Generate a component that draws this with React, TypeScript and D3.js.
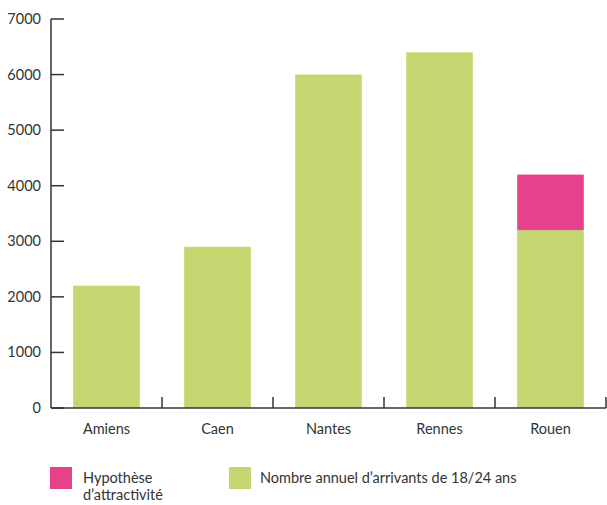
import React from "react";
import * as d3 from "d3";

const categories = ["Amiens", "Caen", "Nantes", "Rennes", "Rouen"];
const arrivants = [2200, 2900, 6000, 6400, 3200];
const hypothese = [0, 0, 0, 0, 1000];
const yTicks = [0, 1000, 2000, 3000, 4000, 5000, 6000, 7000];
const legendLabels = ["Hypothèse|d’attractivité", "Nombre annuel d’arrivants de 18/24 ans"];

const W = 607, H = 505;
const GREEN = "#c3d66f";
const PINK = "#e8418c";
const TEXT = "#333";
const FONT = "Lato, sans-serif";

export default function App() {
  const x = d3.scaleBand<string>().domain(categories).range([51, 606]).paddingInner(0.4).paddingOuter(0.2);
  const y = d3.scaleLinear().domain([0, 7000]).range([408, 19]);
  const band = x.step();
  const bounds = categories.map((c, i) => 51 + band * (i + 1));

  return (
    <svg width={W} height={H} style={{ position: "absolute", left: 0, top: 0, background: "#fff" }} fontFamily={FONT}>
      {categories.map((c, i) => (
        <g key={c}>
          <rect x={x(c)} width={x.bandwidth()} y={y(arrivants[i])} height={y(0) - y(arrivants[i])} fill={GREEN} />
          {hypothese[i] > 0 && (
            <rect x={x(c)} width={x.bandwidth()} y={y(arrivants[i] + hypothese[i])} height={y(arrivants[i]) - y(arrivants[i] + hypothese[i])} fill={PINK} />
          )}
          <text x={(x(c) as number) + x.bandwidth() / 2} y={434} textAnchor="middle" fontSize={14.5} fill={TEXT}>{c}</text>
        </g>
      ))}
      <line x1={51} x2={51} y1={y(7000)} y2={y(0)} stroke={TEXT} strokeWidth={1.5} />
      <line x1={51} x2={606} y1={y(0)} y2={y(0)} stroke={TEXT} strokeWidth={1.5} />
      {yTicks.map((t) => (
        <g key={t}>
          <line x1={51} x2={64} y1={y(t)} y2={y(t)} stroke={TEXT} strokeWidth={1.5} />
          <text x={41} y={y(t) + 5} textAnchor="end" fontSize={14.5} fill={TEXT}>{t}</text>
        </g>
      ))}
      {bounds.map((b, i) => (
        <line key={i} x1={b} x2={b} y1={y(0)} y2={y(0) - 11} stroke={TEXT} strokeWidth={1.5} />
      ))}
      <rect x={50} y={467} width={22} height={22} fill={PINK} />
      <text x={83} y={483} fontSize={14.5} fill={TEXT}>
        {legendLabels[0].split("|").map((l, i) => (
          <tspan key={i} x={83} dy={i === 0 ? 0 : 17}>{l}</tspan>
        ))}
      </text>
      <rect x={229} y={467} width={22} height={22} fill={GREEN} />
      <text x={260} y={483} fontSize={14.5} fill={TEXT}>{legendLabels[1]}</text>
    </svg>
  );
}
